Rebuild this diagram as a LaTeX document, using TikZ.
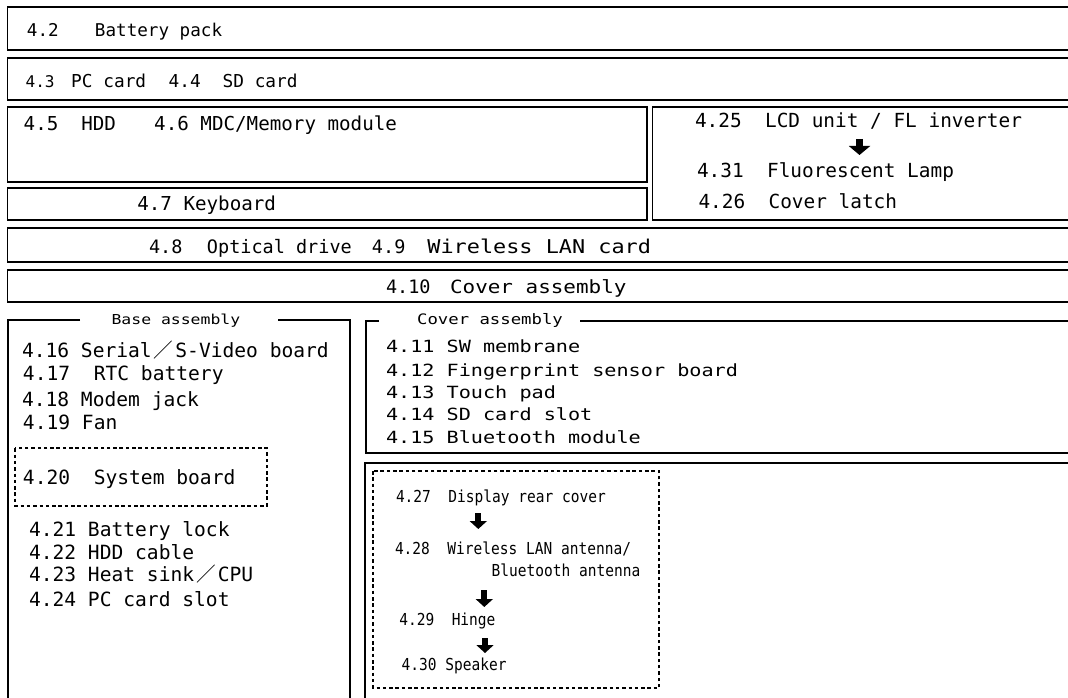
\documentclass[tikz,border=0pt]{standalone}
\usepackage{fontspec}
\usetikzlibrary{arrows.meta}
\newfontfamily\fB{DejaVu Sans Mono}
\newfontfamily\fC[FakeStretch=1.2]{DejaVu Sans Mono}
\newfontfamily\fD[FakeStretch=0.88]{DejaVu Sans Mono}
\newfontfamily\fE[FakeStretch=1.15]{DejaVu Sans Mono}
\newfontfamily\cjk{Noto Sans CJK JP}
\newcommand\sz[1]{\fontsize{#1}{#1}\selectfont}
\newcommand\fsl{{\cjk\hspace{2pt}／\hspace{2pt}}}
\begin{document}
\begin{tikzpicture}[x=1pt,y=-1pt,
 txt/.style={anchor=base west,inner sep=0pt,outer sep=0pt},
 tB/.style={txt,font=\fB\sz{19.6}},
 tC/.style={txt,font=\fC\sz{16.8}},
 tD/.style={txt,font=\fD\sz{16.5}},
 ttlbase/.style={anchor=base,inner sep=0pt,outer sep=0pt,font=\fC\sz{13.7}},
 ttlcov/.style={anchor=base,inner sep=0pt,outer sep=0pt,font=\fC\sz{14.4}},
 panel/.style={draw=black,line width=1.8pt},
 dbox/.style={draw=black,line width=1.7pt,dash pattern=on 3.5pt off 2.8pt},
 blk/.style={draw=black,line width=7pt,-{Triangle[width=21pt,length=9pt]}},
 blks/.style={draw=black,line width=6pt,-{Triangle[width=17pt,length=8pt]}}]
\useasboundingbox (0,0) rectangle (1068,698);
\fill[white] (0,0) rectangle (1068,698);
\clip (0,0) rectangle (1068,698);
% top panels
\draw[panel] (7.5,7) rectangle (1080,50);
\draw[panel] (7.5,58.3) rectangle (1080,100);
\draw[panel] (7.5,107.3) rectangle (646.7,181.7);
\draw[panel] (7.5,188.3) rectangle (646.7,220);
\draw[panel] (652.5,107.3) rectangle (1080,220);
\draw[panel] (7.5,228.3) rectangle (1080,262.3);
\draw[panel] (7.5,270) rectangle (1080,301.7);
% base assembly panel
\draw[panel] (80,320) -- (8.3,320) -- (8.3,710);
\draw[panel] (278,320) -- (350,320) -- (350,710);
% cover assembly panel
\draw[panel] (379,320.7) -- (366,320.7) -- (366,452.7) -- (1080,452.7);
\draw[panel] (580,320.7) -- (1080,320.7);
% lower right panel
\draw[panel] (1080,463.3) -- (365,463.3) -- (365,710);
% dashed boxes
\draw[dbox] (15,448.3) rectangle (266.7,505.7);
\draw[dbox] (373.3,471) rectangle (659,688.3);
% top texts
\node[txt,font=\fB\sz{17.6}] (t42) at (27,37) {4.2\hspace{36.2pt}Battery pack};
\node[txt,font=\fB\sz{17.8}] (t43) at (25.6,88) {{\sz{16.1}4.3}\hspace{16.5pt}PC card\hspace{22.4pt}4.4\hspace{21.9pt}SD card};
\node[txt,font=\fB\sz{19.2}] (t45) at (23.7,131) {4.5\hspace{23pt}HDD\hspace{38.2pt}4.6 MDC/Memory module};
\node[txt,font=\fB\sz{19.2}] (t47) at (137.3,210) {4.7 Keyboard};
\node[txt,font=\fB\sz{18.5}] (t48) at (149,253) {4.8\hspace{24.6pt}Optical drive\hspace{20.2pt}4.9\hspace{22pt}{\fE\sz{19}Wireless LAN card}};
\node[txt,font=\fB\sz{18.5}] (t410) at (386,293) {4.10\hspace{19.5pt}{\fE\sz{18.2}Cover assembly}};
% LCD panel
\node[txt,font=\fB\sz{19.4}] (t425) at (695,128) {4.25~~LCD unit / FL inverter};
\node[txt,font=\fB\sz{19.4}] (t431) at (697,177) {4.31~~Fluorescent Lamp};
\node[txt,font=\fB\sz{19.4}] (t426) at (698.5,208) {4.26~~Cover latch};
\coordinate (ax1) at (859.5,0);
\draw[blk] ([yshift=-11pt]t425.base -| ax1) -- ([yshift=22pt]t431.base -| ax1);
% base assembly
\node[ttlbase] (tbase) at (175.9,324) {Base assembly};
\node[tB] (t416) at (22,357) {4.16 Serial\fsl S-Video board};
\node[tB] (t417) at (23,380.7) {4.17~~RTC battery};
\node[tB] (t418) at (22,406.7) {4.18 Modem jack};
\node[tB] (t419) at (23,429) {4.19 Fan};
\node[tB] (t420) at (23,484.3) {4.20~~System board};
\node[tB] (t421) at (29,536) {4.21 Battery lock};
\node[tB] (t422) at (29,559.3) {4.22 HDD cable};
\node[tB] (t423) at (29,581.7) {4.23 Heat sink\fsl CPU};
\node[tB] (t424) at (29,606) {4.24 PC card slot};
% cover assembly
\node[ttlcov] (tcov) at (490,324) {Cover assembly};
\node[tC] (t411) at (386,352.7) {4.11 SW membrane};
\node[tC] (t412) at (386,376) {4.12 Fingerprint sensor board};
\node[tC] (t413) at (386,398) {4.13 Touch pad};
\node[tC] (t414) at (386,420.7) {4.14 SD card slot};
\node[tC] (t415) at (386,443) {4.15 Bluetooth module};
% display group
\node[tD] (t427) at (396,502.7) {4.27~~Display rear cover};
\node[tD] (t428) at (395,554) {4.28~~Wireless LAN antenna/};
\node[tD] (tbt) at (491.7,576.7) {Bluetooth antenna};
\node[tD] (t429) at (399.3,625) {4.29~~Hinge};
\node[tD] (t430) at (401.7,670.7) {4.30 Speaker};
\coordinate (ax2) at (478.3,0);
\coordinate (ax3) at (484.3,0);
\coordinate (ax4) at (485,0);
\draw[blks] ([yshift=-10.3pt]t427.base -| ax2) -- ([yshift=25pt]t428.base -| ax2);
\draw[blks] ([yshift=-13.3pt]tbt.base -| ax3) -- ([yshift=18pt]t429.base -| ax3);
\draw[blks] ([yshift=-13pt]t429.base -| ax4) -- ([yshift=17.7pt]t430.base -| ax4);
\end{tikzpicture}
\end{document}
